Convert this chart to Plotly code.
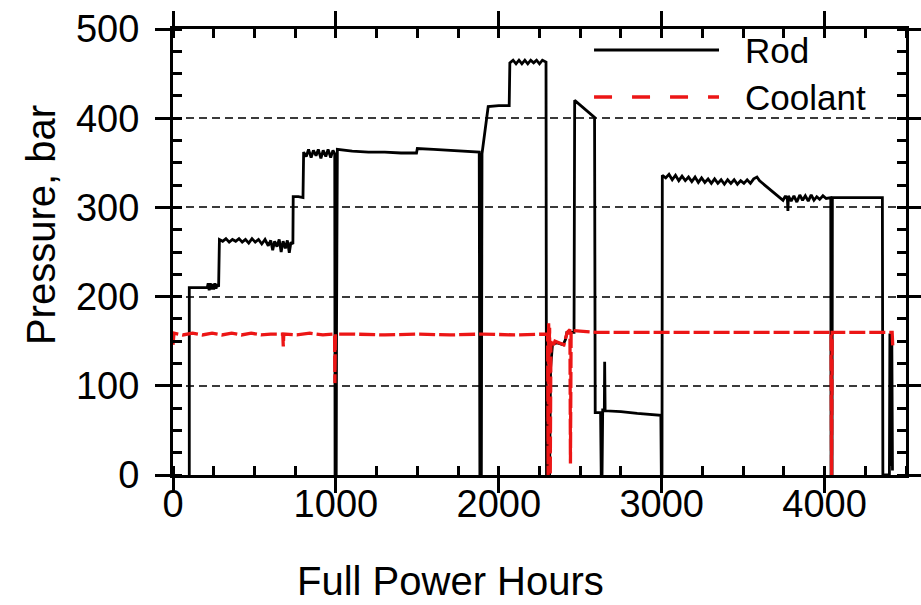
import plotly.graph_objects as go

# Rod internal pressure history (full power hours, bar)
rod_hours = [
    100, 100, 210, 216, 222, 229, 236, 243, 250, 257, 264, 271, 280, 285,
    305, 325, 345, 365, 385, 405, 425, 445, 465, 485, 505, 525, 545, 565,
    585, 600, 612, 624, 638, 652, 664, 676, 690, 702, 714, 724, 736, 738,
    770, 798, 802, 818, 832, 848, 862, 878, 892, 908, 922, 938, 952, 968,
    982, 993, 995, 1002, 1004, 1009, 1100, 1200, 1300, 1400, 1495, 1500,
    1600, 1700, 1800, 1880, 1884, 1893, 1897, 1935, 2000, 2064, 2068, 2088,
    2106, 2124, 2142, 2160, 2178, 2196, 2214, 2232, 2250, 2268, 2290, 2293,
    2300, 2303, 2306, 2312, 2318, 2330, 2360, 2395, 2410, 2418, 2462, 2466,
    2588, 2592, 2625, 2629, 2634, 2638, 2648, 2650, 2653, 2750, 2850, 2995,
    2998, 3002, 3004, 3025, 3045, 3065, 3085, 3105, 3125, 3145, 3165, 3185,
    3205, 3225, 3245, 3265, 3285, 3305, 3325, 3345, 3365, 3385, 3405, 3425,
    3445, 3465, 3485, 3505, 3525, 3545, 3565, 3585, 3600, 3625, 3650, 3675,
    3700, 3725, 3745, 3760, 3772, 3775, 3778, 3795, 3812, 3830, 3848, 3865,
    3882, 3900, 3918, 3935, 3952, 3970, 3990, 4010, 4038, 4040, 4046, 4048,
    4150, 4250, 4355, 4358, 4398, 4401, 4406, 4409, 4413, 4417,
]
rod_bar = [
    0, 210, 210, 215, 207, 215, 208, 214, 208, 215, 209, 214, 211, 264,
    262, 265, 261, 264, 262, 265, 261, 264, 260, 265, 261, 264, 259, 264,
    257, 263, 252, 262, 256, 264, 250, 262, 254, 263, 249, 261, 259, 312,
    312, 311, 362, 357, 365, 356, 364, 358, 365, 355, 364, 357, 365, 356,
    364, 360, 0, 0, 168, 365, 363, 362, 362, 361, 361, 366,
    365, 364, 363, 362, 0, 0, 360, 413, 414, 414, 462, 465,
    461, 465, 461, 465, 461, 465, 462, 465, 461, 465, 463, 0,
    0, 85, 0, 0, 120, 147, 148, 146, 152, 160, 160, 420,
    401, 70, 70, 0, 0, 73, 73, 127, 72, 71, 69, 67,
    0, 0, 336, 333, 337, 331, 336, 330, 335, 330, 334, 329,
    334, 328, 333, 328, 332, 327, 332, 327, 331, 326, 331, 327,
    331, 326, 330, 327, 331, 327, 332, 334, 330, 326, 322, 318,
    314, 311, 308, 313, 309, 296, 313, 307, 313, 306, 314, 308,
    313, 307, 314, 308, 312, 309, 313, 310, 311, 0, 0, 311,
    311, 311, 311, 0, 0, 157, 157, 10, 150, 5,
]

# Coolant pressure history (full power hours, bar)
coolant_hours = [
    0, 6, 60, 120, 180, 240, 300, 360, 420, 480, 540, 600, 674, 677, 680,
    760, 840, 920, 992, 994, 997, 1100, 1300, 1500, 1700, 1900, 2100, 2290,
    2300, 2303, 2306, 2309, 2312, 2316, 2320, 2330, 2345, 2370, 2400, 2420,
    2437, 2440, 2444, 2600, 2800, 3000, 3300, 3600, 3900, 4040, 4043, 4047,
    4200, 4415, 4419,
]
coolant_bar = [
    146, 159, 157, 159, 157, 159, 157, 159, 157, 159, 157, 158, 158, 144, 158,
    157, 159, 157, 158, 103, 158, 158, 157, 158, 157, 158, 157, 158,
    158, 0, 170, 140, 165, 0, 150, 143, 150, 148, 146, 160,
    163, 13, 162, 160, 160, 160, 160, 160, 160, 160, 0, 160,
    160, 160, 143,
]

x_ticks = [0, 1000, 2000, 3000, 4000]
y_ticks = [0, 100, 200, 300, 400, 500]

FONT = "Liberation Sans, Arial, Helvetica, sans-serif"
RED = "rgb(236,22,22)"

fig = go.Figure()
fig.add_trace(go.Scatter(
    x=rod_hours, y=rod_bar, mode="lines", name="Rod",
    line=dict(color="black", width=2.8), showlegend=False,
))
fig.add_trace(go.Scatter(
    x=coolant_hours, y=coolant_bar, mode="lines", name="Coolant",
    line=dict(color=RED, width=3.3, dash="16px,4px"), showlegend=False,
))
# empty trace hosting the overlay axes that carry the inward half of major ticks
fig.add_trace(go.Scatter(x=[], y=[], xaxis="x2", yaxis="y2",
                         showlegend=False, hoverinfo="skip"))

tick_font = dict(family=FONT, size=38, color="black")
frame = dict(
    showline=True, linecolor="black", linewidth=3, mirror="ticks",
    ticks="outside", ticklen=15, tickwidth=2.5, tickcolor="black",
    zeroline=False, tickfont=tick_font, automargin=False,
)
inner = dict(
    ticks="inside", ticklen=9, tickwidth=2.5, tickcolor="black",
    showticklabels=False, showline=False, showgrid=False, zeroline=False,
    mirror="ticks", automargin=False,
)

fig.update_layout(
    width=921, height=605,
    margin=dict(l=173, r=15, t=29, b=130),
    paper_bgcolor="white", plot_bgcolor="white",
    showlegend=False,
    xaxis=dict(
        range=[0, 4500], tickvals=x_ticks, showgrid=False,
        ticklabelstandoff=-22,
        minor=dict(dtick=250, tick0=0, ticks="inside", ticklen=9,
                   tickwidth=2.5, tickcolor="black", showgrid=False),
        **frame,
    ),
    yaxis=dict(
        range=[0, 500], tickvals=y_ticks, showgrid=True,
        gridcolor="#3a3a3a", gridwidth=1.5, griddash="8px,5px",
        ticklabelstandoff=8,
        minor=dict(dtick=25, tick0=0, ticks="inside", ticklen=9,
                   tickwidth=2.5, tickcolor="black", showgrid=False),
        **frame,
    ),
    xaxis2=dict(overlaying="x", anchor="y2", side="bottom",
                range=[0, 4500], tickvals=x_ticks, **inner),
    yaxis2=dict(overlaying="y", anchor="x2", side="left",
                range=[0, 500], tickvals=y_ticks, **inner),
)

# legend drawn as line samples with labels
fig.add_shape(type="line", xref="paper", yref="paper",
              x0=0.5744, x1=0.7449, y0=0.9529, y1=0.9529,
              line=dict(color="black", width=2.8))
fig.add_shape(type="line", xref="paper", yref="paper",
              x0=0.5744, x1=0.7449, y0=0.8475, y1=0.8475,
              line=dict(color=RED, width=3.3, dash="18px,20px"))
fig.add_annotation(text="Rod", xref="paper", yref="paper", x=0.7770, y=0.9529,
                   xanchor="left", yanchor="middle", showarrow=False,
                   font=dict(family=FONT, size=35, color="black"))
fig.add_annotation(text="Coolant", xref="paper", yref="paper", x=0.7770, y=0.8475,
                   xanchor="left", yanchor="middle", showarrow=False,
                   font=dict(family=FONT, size=35, color="black"))

# axis titles
fig.add_annotation(text="Full Power Hours", xref="paper", yref="paper",
                   x=0.378, y=-0.2915, xanchor="center", yanchor="bottom",
                   showarrow=False, font=dict(family=FONT, size=40, color="black"))
fig.add_annotation(text="Pressure, bar", xref="paper", yref="paper",
                   x=-0.180, y=0.5605, xanchor="center", yanchor="middle",
                   textangle=-90, showarrow=False,
                   font=dict(family=FONT, size=40, color="black"))

fig.write_html("out.html")
